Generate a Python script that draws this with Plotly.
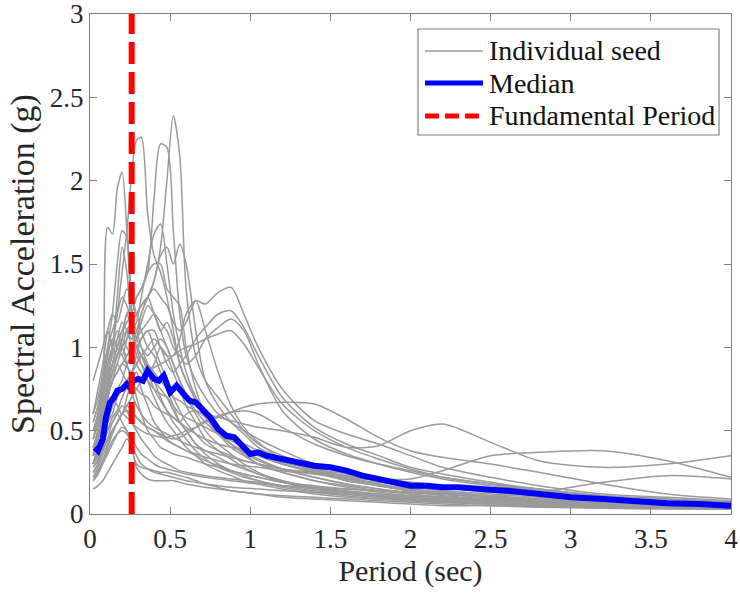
import plotly.graph_objects as go

# Period grid shared by all individual ground-motion seeds (sec)
periods = [0.02, 0.05, 0.08, 0.11, 0.14, 0.17, 0.2, 0.23, 0.26, 0.29, 0.32, 0.36,
           0.4, 0.44, 0.48, 0.52, 0.56, 0.6, 0.66, 0.72, 0.8, 0.88, 0.96, 1.05,
           1.2, 1.4, 1.6, 1.8, 2.0, 2.2, 2.5, 2.8, 3.2, 3.6, 4.0]

# Spectral acceleration (g) of each seed on the grid above
seed_01 = [0.30, 0.38, 0.55, 1.72, 1.68, 1.95, 2.05, 1.70, 1.20, 1.00, 0.95, 0.88, 0.80, 0.75, 0.70, 0.62, 0.55, 0.50, 0.42, 0.38, 0.34, 0.30, 0.27, 0.24, 0.20, 0.16, 0.13, 0.11, 0.09, 0.08, 0.07, 0.06, 0.05, 0.045, 0.04]
seed_02 = [0.35, 0.45, 0.60, 0.80, 1.00, 1.20, 1.45, 1.70, 2.04, 2.24, 2.26, 1.80, 1.55, 1.45, 1.30, 1.10, 0.90, 0.80, 0.70, 0.60, 0.50, 0.45, 0.40, 0.35, 0.30, 0.25, 0.20, 0.17, 0.14, 0.12, 0.10, 0.09, 0.07, 0.06, 0.05]
seed_03 = [0.40, 0.50, 0.65, 0.80, 0.90, 1.00, 1.10, 1.15, 1.20, 1.30, 1.35, 1.45, 1.90, 2.22, 2.20, 1.70, 1.20, 0.95, 0.80, 0.70, 0.60, 0.55, 0.50, 0.45, 0.38, 0.30, 0.25, 0.20, 0.16, 0.14, 0.12, 0.10, 0.08, 0.07, 0.06]
seed_04 = [0.35, 0.45, 0.55, 0.70, 0.80, 0.90, 1.00, 1.10, 1.15, 1.20, 1.25, 1.30, 1.40, 1.60, 2.00, 2.39, 2.15, 1.35, 0.95, 0.80, 0.70, 0.60, 0.50, 0.42, 0.35, 0.28, 0.22, 0.18, 0.15, 0.13, 0.11, 0.09, 0.07, 0.06, 0.05]
seed_05 = [0.30, 0.40, 0.50, 0.70, 0.85, 0.95, 1.00, 1.05, 1.10, 1.15, 1.30, 1.50, 1.68, 1.74, 1.50, 1.20, 1.00, 0.85, 0.70, 0.60, 0.50, 0.42, 0.38, 0.33, 0.27, 0.22, 0.18, 0.15, 0.12, 0.10, 0.09, 0.08, 0.06, 0.05, 0.05]
seed_06 = [0.40, 0.50, 0.60, 0.75, 0.90, 1.00, 1.05, 1.00, 0.95, 1.05, 1.20, 1.30, 1.40, 1.55, 1.60, 1.50, 1.62, 1.50, 1.10, 0.80, 0.65, 0.55, 0.48, 0.40, 0.33, 0.27, 0.22, 0.18, 0.15, 0.13, 0.11, 0.09, 0.07, 0.06, 0.05]
seed_07 = [0.45, 0.60, 0.80, 1.00, 1.20, 1.50, 1.70, 1.66, 1.30, 1.20, 1.25, 1.30, 1.20, 1.10, 1.00, 0.90, 0.80, 0.70, 0.60, 0.50, 0.42, 0.36, 0.30, 0.25, 0.20, 0.16, 0.13, 0.11, 0.09, 0.08, 0.07, 0.06, 0.05, 0.04, 0.04]
seed_08 = [0.35, 0.50, 0.70, 0.85, 1.00, 1.30, 1.60, 1.45, 1.10, 0.95, 0.90, 0.85, 0.90, 1.00, 0.95, 0.85, 0.75, 0.65, 0.55, 0.45, 0.38, 0.33, 0.28, 0.24, 0.19, 0.15, 0.12, 0.10, 0.08, 0.07, 0.06, 0.05, 0.04, 0.04, 0.03]
seed_09 = [0.50, 0.60, 0.75, 0.90, 1.00, 1.05, 1.10, 1.20, 1.25, 1.30, 1.35, 1.45, 1.50, 1.50, 1.35, 1.30, 1.25, 1.00, 0.75, 0.60, 0.50, 0.45, 0.42, 0.38, 0.30, 0.25, 0.20, 0.17, 0.14, 0.12, 0.10, 0.09, 0.07, 0.06, 0.05]
seed_10 = [0.25, 0.30, 0.40, 0.55, 0.65, 0.75, 0.80, 0.90, 0.95, 1.00, 1.05, 1.10, 1.10, 1.00, 0.95, 0.95, 1.05, 1.20, 1.28, 1.26, 1.33, 1.36, 1.20, 1.00, 0.75, 0.56, 0.48, 0.42, 0.35, 0.28, 0.22, 0.17, 0.12, 0.10, 0.08]
seed_11 = [0.30, 0.35, 0.45, 0.55, 0.60, 0.70, 0.75, 0.80, 0.85, 0.90, 0.95, 1.00, 1.05, 1.00, 0.90, 0.85, 0.90, 0.95, 1.05, 1.12, 1.20, 1.22, 1.12, 0.95, 0.70, 0.52, 0.42, 0.35, 0.28, 0.24, 0.19, 0.15, 0.11, 0.09, 0.07]
seed_12 = [0.40, 0.45, 0.55, 0.70, 0.80, 0.85, 0.90, 0.95, 1.00, 1.05, 1.10, 1.15, 1.20, 1.15, 1.10, 1.00, 0.95, 0.90, 0.95, 1.05, 1.12, 1.17, 1.10, 0.90, 0.62, 0.45, 0.36, 0.30, 0.25, 0.21, 0.17, 0.14, 0.10, 0.08, 0.07]
seed_13 = [0.28, 0.32, 0.38, 0.45, 0.50, 0.55, 0.60, 0.65, 0.70, 0.75, 0.80, 0.85, 0.88, 0.90, 0.92, 0.95, 0.98, 1.00, 1.02, 1.05, 1.08, 1.10, 1.02, 0.88, 0.66, 0.50, 0.40, 0.33, 0.27, 0.22, 0.18, 0.15, 0.11, 0.09, 0.07]
seed_14 = [0.45, 0.55, 0.70, 0.85, 0.95, 1.05, 1.15, 1.10, 1.05, 1.10, 1.20, 1.30, 1.35, 1.30, 1.25, 1.15, 1.10, 1.15, 1.28, 1.10, 0.85, 0.65, 0.52, 0.43, 0.33, 0.26, 0.21, 0.17, 0.14, 0.12, 0.10, 0.08, 0.06, 0.05, 0.045]
seed_15 = [0.15, 0.17, 0.20, 0.25, 0.30, 0.35, 0.40, 0.45, 0.40, 0.28, 0.24, 0.21, 0.20, 0.20, 0.20, 0.20, 0.19, 0.18, 0.17, 0.16, 0.15, 0.14, 0.13, 0.12, 0.11, 0.10, 0.09, 0.08, 0.07, 0.06, 0.05, 0.045, 0.04, 0.035, 0.03]
seed_16 = [0.25, 0.30, 0.40, 0.50, 0.55, 0.60, 0.55, 0.50, 0.40, 0.30, 0.28, 0.27, 0.26, 0.25, 0.25, 0.24, 0.23, 0.22, 0.20, 0.18, 0.16, 0.14, 0.13, 0.12, 0.10, 0.09, 0.08, 0.07, 0.06, 0.05, 0.05, 0.04, 0.035, 0.03, 0.03]
seed_17 = [0.30, 0.35, 0.40, 0.45, 0.50, 0.55, 0.60, 0.58, 0.55, 0.52, 0.50, 0.48, 0.47, 0.46, 0.46, 0.47, 0.48, 0.50, 0.52, 0.55, 0.58, 0.61, 0.64, 0.66, 0.67, 0.66, 0.57, 0.46, 0.38, 0.34, 0.30, 0.25, 0.18, 0.12, 0.09]
seed_18 = [0.22, 0.28, 0.35, 0.42, 0.50, 0.55, 0.60, 0.65, 0.62, 0.58, 0.55, 0.52, 0.50, 0.48, 0.46, 0.45, 0.46, 0.48, 0.52, 0.56, 0.59, 0.61, 0.62, 0.60, 0.52, 0.42, 0.35, 0.30, 0.26, 0.22, 0.18, 0.14, 0.10, 0.08, 0.06]
seed_19 = [0.35, 0.45, 0.55, 0.70, 0.80, 0.85, 0.90, 0.88, 0.85, 0.90, 0.95, 0.90, 0.85, 0.80, 0.75, 0.70, 0.68, 0.65, 0.62, 0.60, 0.58, 0.56, 0.54, 0.52, 0.50, 0.46, 0.40, 0.41, 0.50, 0.54, 0.43, 0.32, 0.28, 0.30, 0.35]
seed_20 = [0.30, 0.38, 0.45, 0.55, 0.65, 0.70, 0.75, 0.80, 0.78, 0.75, 0.72, 0.70, 0.65, 0.62, 0.60, 0.58, 0.55, 0.52, 0.48, 0.45, 0.42, 0.40, 0.38, 0.35, 0.30, 0.26, 0.23, 0.21, 0.21, 0.26, 0.35, 0.37, 0.38, 0.32, 0.22]
seed_21 = [0.20, 0.25, 0.32, 0.40, 0.48, 0.55, 0.60, 0.62, 0.60, 0.58, 0.55, 0.52, 0.50, 0.47, 0.44, 0.42, 0.40, 0.38, 0.35, 0.32, 0.29, 0.26, 0.24, 0.22, 0.19, 0.17, 0.15, 0.14, 0.13, 0.12, 0.11, 0.13, 0.19, 0.23, 0.21]
seed_22 = [0.60, 0.75, 0.90, 1.10, 1.20, 1.15, 1.25, 1.35, 1.30, 1.20, 1.10, 1.00, 0.95, 0.85, 0.75, 0.65, 0.55, 0.50, 0.42, 0.36, 0.30, 0.26, 0.23, 0.20, 0.16, 0.13, 0.11, 0.09, 0.08, 0.07, 0.06, 0.05, 0.04, 0.035, 0.03]
seed_23 = [0.55, 0.65, 0.80, 0.95, 1.05, 1.00, 0.95, 1.05, 1.15, 1.10, 1.00, 0.90, 0.80, 0.70, 0.62, 0.55, 0.50, 0.45, 0.38, 0.33, 0.28, 0.25, 0.22, 0.20, 0.17, 0.14, 0.12, 0.10, 0.09, 0.08, 0.07, 0.06, 0.05, 0.04, 0.04]
seed_24 = [0.80, 0.90, 1.00, 1.10, 1.00, 0.95, 1.05, 1.20, 1.10, 1.00, 0.90, 0.80, 0.70, 0.62, 0.55, 0.50, 0.45, 0.40, 0.35, 0.30, 0.26, 0.23, 0.20, 0.18, 0.15, 0.12, 0.10, 0.09, 0.08, 0.07, 0.06, 0.05, 0.04, 0.035, 0.03]
seed_25 = [0.45, 0.55, 0.70, 0.80, 0.90, 0.95, 1.00, 0.90, 0.80, 0.70, 0.60, 0.50, 0.45, 0.40, 0.38, 0.36, 0.35, 0.34, 0.32, 0.30, 0.28, 0.26, 0.24, 0.22, 0.19, 0.16, 0.14, 0.12, 0.10, 0.09, 0.08, 0.07, 0.05, 0.045, 0.04]
seed_26 = [0.30, 0.40, 0.50, 0.60, 0.70, 0.65, 0.60, 0.70, 0.80, 0.85, 0.75, 0.65, 0.55, 0.50, 0.45, 0.42, 0.40, 0.38, 0.36, 0.34, 0.32, 0.30, 0.29, 0.28, 0.26, 0.24, 0.22, 0.20, 0.18, 0.16, 0.13, 0.11, 0.08, 0.07, 0.06]
seed_27 = [0.40, 0.48, 0.60, 0.70, 0.80, 0.90, 0.85, 0.80, 0.85, 0.95, 1.05, 1.10, 1.00, 0.90, 0.80, 0.70, 0.62, 0.55, 0.48, 0.42, 0.38, 0.35, 0.32, 0.30, 0.27, 0.25, 0.23, 0.21, 0.19, 0.17, 0.14, 0.12, 0.09, 0.07, 0.06]
seed_28 = [0.25, 0.30, 0.38, 0.45, 0.55, 0.60, 0.65, 0.62, 0.55, 0.50, 0.45, 0.40, 0.35, 0.32, 0.30, 0.28, 0.26, 0.25, 0.24, 0.23, 0.22, 0.21, 0.20, 0.19, 0.17, 0.15, 0.13, 0.12, 0.11, 0.10, 0.09, 0.08, 0.06, 0.05, 0.04]
seed_29 = [0.50, 0.60, 0.75, 0.90, 1.00, 1.10, 1.00, 0.95, 1.00, 1.05, 1.15, 1.25, 1.20, 1.10, 1.15, 1.05, 0.90, 0.80, 0.68, 0.58, 0.48, 0.40, 0.35, 0.30, 0.25, 0.20, 0.17, 0.14, 0.12, 0.10, 0.09, 0.08, 0.06, 0.05, 0.04]
seed_30 = [0.35, 0.45, 0.60, 0.75, 0.85, 0.95, 1.05, 1.10, 1.00, 0.90, 0.85, 0.80, 0.75, 0.72, 0.70, 0.65, 0.60, 0.58, 0.55, 0.52, 0.48, 0.44, 0.40, 0.36, 0.31, 0.27, 0.24, 0.21, 0.19, 0.17, 0.15, 0.12, 0.09, 0.07, 0.06]
seed_31 = [0.60, 0.70, 0.85, 1.00, 1.10, 1.20, 1.30, 1.25, 1.15, 1.05, 1.00, 0.95, 1.00, 1.05, 1.00, 0.90, 0.80, 0.72, 0.62, 0.55, 0.48, 0.42, 0.37, 0.32, 0.27, 0.22, 0.18, 0.15, 0.13, 0.11, 0.09, 0.08, 0.06, 0.05, 0.045]
seed_32 = [0.28, 0.33, 0.42, 0.50, 0.58, 0.62, 0.70, 0.75, 0.72, 0.65, 0.60, 0.55, 0.52, 0.50, 0.48, 0.46, 0.44, 0.42, 0.40, 0.38, 0.36, 0.34, 0.32, 0.30, 0.27, 0.24, 0.21, 0.19, 0.17, 0.16, 0.14, 0.12, 0.10, 0.08, 0.07]
seed_33 = [0.20, 0.24, 0.30, 0.36, 0.42, 0.48, 0.52, 0.50, 0.45, 0.40, 0.36, 0.33, 0.30, 0.28, 0.27, 0.26, 0.25, 0.24, 0.23, 0.22, 0.21, 0.20, 0.19, 0.18, 0.17, 0.16, 0.15, 0.14, 0.13, 0.12, 0.10, 0.08, 0.06, 0.05, 0.04]
seed_34 = [0.55, 0.65, 0.80, 0.95, 1.05, 1.00, 0.95, 0.90, 0.95, 1.00, 0.95, 0.85, 0.75, 0.68, 0.62, 0.58, 0.55, 0.60, 0.62, 0.58, 0.50, 0.42, 0.36, 0.30, 0.25, 0.20, 0.16, 0.13, 0.11, 0.10, 0.08, 0.07, 0.05, 0.04, 0.04]
seed_35 = [0.22, 0.26, 0.32, 0.38, 0.44, 0.48, 0.50, 0.48, 0.42, 0.35, 0.30, 0.27, 0.25, 0.24, 0.23, 0.22, 0.21, 0.20, 0.19, 0.18, 0.17, 0.16, 0.155, 0.15, 0.14, 0.13, 0.12, 0.11, 0.10, 0.09, 0.08, 0.07, 0.055, 0.045, 0.04]

seeds = [seed_01, seed_02, seed_03, seed_04, seed_05, seed_06, seed_07, seed_08,
         seed_09, seed_10, seed_11, seed_12, seed_13, seed_14, seed_15, seed_16,
         seed_17, seed_18, seed_19, seed_20, seed_21, seed_22, seed_23, seed_24,
         seed_25, seed_26, seed_27, seed_28, seed_29, seed_30, seed_31, seed_32,
         seed_33, seed_34, seed_35]

# Median spectrum
median_periods = [0.03, 0.05, 0.08, 0.1, 0.125, 0.15, 0.17, 0.2, 0.23, 0.25, 0.27, 0.3,
                  0.33, 0.36, 0.4, 0.43, 0.46, 0.5, 0.54, 0.58, 0.62, 0.66, 0.7, 0.75,
                  0.8, 0.85, 0.9, 0.95, 1.0, 1.05, 1.1, 1.15, 1.2, 1.3, 1.4, 1.5, 1.6,
                  1.7, 1.8, 1.9, 2.0, 2.1, 2.2, 2.3, 2.4, 2.5, 2.6, 2.7, 2.8, 2.9, 3.0,
                  3.2, 3.4, 3.6, 3.8, 4.0]
median_sa = [0.40, 0.38, 0.45, 0.58, 0.67, 0.70, 0.74, 0.75, 0.78, 0.76, 0.80, 0.81,
             0.80, 0.86, 0.81, 0.80, 0.83, 0.73, 0.77, 0.72, 0.68, 0.67, 0.63, 0.58,
             0.51, 0.47, 0.46, 0.41, 0.36, 0.37, 0.35, 0.34, 0.33, 0.31, 0.29, 0.28,
             0.26, 0.23, 0.21, 0.19, 0.17, 0.17, 0.16, 0.16, 0.15, 0.145, 0.14, 0.13,
             0.12, 0.11, 0.10, 0.09, 0.075, 0.065, 0.06, 0.05]

# Fundamental period of the structure (sec)
fundamental_period = 0.26

x_ticks = [0, 0.5, 1, 1.5, 2, 2.5, 3, 3.5, 4]
x_tick_labels = ["0", "0.5", "1", "1.5", "2", "2.5", "3", "3.5", "4"]
y_ticks = [0, 0.5, 1, 1.5, 2, 2.5, 3]
y_tick_labels = ["0", "0.5", "1", "1.5", "2", "2.5", "3"]

legend_labels = ["Individual seed", "Median", "Fundamental Period"]

GRAY = "#9a9a9a"
BLUE = "#0000ff"
RED = "#ff0000"
AXIS = "#808080"
TEXT = "#262626"
FONT = "Liberation Serif, Times New Roman, serif"

fig = go.Figure()

for sa in seeds:
    fig.add_trace(go.Scatter(
        x=periods, y=sa, mode="lines",
        line=dict(color=GRAY, width=1.5, shape="spline", smoothing=0.8),
        name=legend_labels[0], showlegend=False, hoverinfo="skip",
    ))

fig.add_trace(go.Scatter(
    x=median_periods, y=median_sa, mode="lines",
    line=dict(color=BLUE, width=6),
    name=legend_labels[1], showlegend=False,
))

fig.add_trace(go.Scatter(
    x=[fundamental_period, fundamental_period], y=[y_ticks[0], y_ticks[-1]],
    mode="lines", line=dict(color=RED, width=6, dash="22px,8px"),
    name=legend_labels[2], showlegend=False,
))

# Boxed legend in the upper right corner (paper coordinates)
box = dict(x0=0.5117, x1=0.9813, y0=0.758, y1=0.970)
fig.add_shape(type="rect", xref="paper", yref="paper", **box,
              line=dict(color=AXIS, width=1.2), fillcolor="white", layer="above")
rows_y = [0.926, 0.862, 0.796]
sample_styles = [dict(color=GRAY, width=1.5),
                 dict(color=BLUE, width=5),
                 dict(color=RED, width=5, dash="14px,6px")]
for y, style, label in zip(rows_y, sample_styles, legend_labels):
    fig.add_shape(type="line", xref="paper", yref="paper",
                  x0=0.5226, x1=0.6131, y0=y, y1=y, line=style, layer="above")
    fig.add_annotation(xref="paper", yref="paper", x=0.6200, y=y,
                       text=label, showarrow=False, xanchor="left", yanchor="middle",
                       font=dict(family=FONT, size=28, color="#111111"))

axis_common = dict(
    showgrid=False, zeroline=False, automargin=False,
    showline=True, linecolor=AXIS, linewidth=1.2, mirror="ticks",
    ticks="inside", ticklen=7, tickwidth=1.2, tickcolor=AXIS,
    tickfont=dict(family=FONT, size=27, color=TEXT),
    ticklabeloverflow="allow",
)

fig.update_xaxes(
    range=[0, 4], tickvals=x_ticks, ticktext=x_tick_labels,
    title=dict(text="Period (sec)", font=dict(family=FONT, size=30, color=TEXT), standoff=2),
    **axis_common,
)
fig.update_yaxes(
    range=[0, 3], tickvals=y_ticks, ticktext=y_tick_labels,
    title=dict(text="Spectral Acceleration (g)", font=dict(family=FONT, size=34, color=TEXT), standoff=4),
    **axis_common,
)

fig.update_layout(
    width=740, height=594,
    margin=dict(l=90, r=9, t=14, b=80),
    paper_bgcolor="white", plot_bgcolor="white",
    showlegend=False,
)

fig.write_html("out.html")
